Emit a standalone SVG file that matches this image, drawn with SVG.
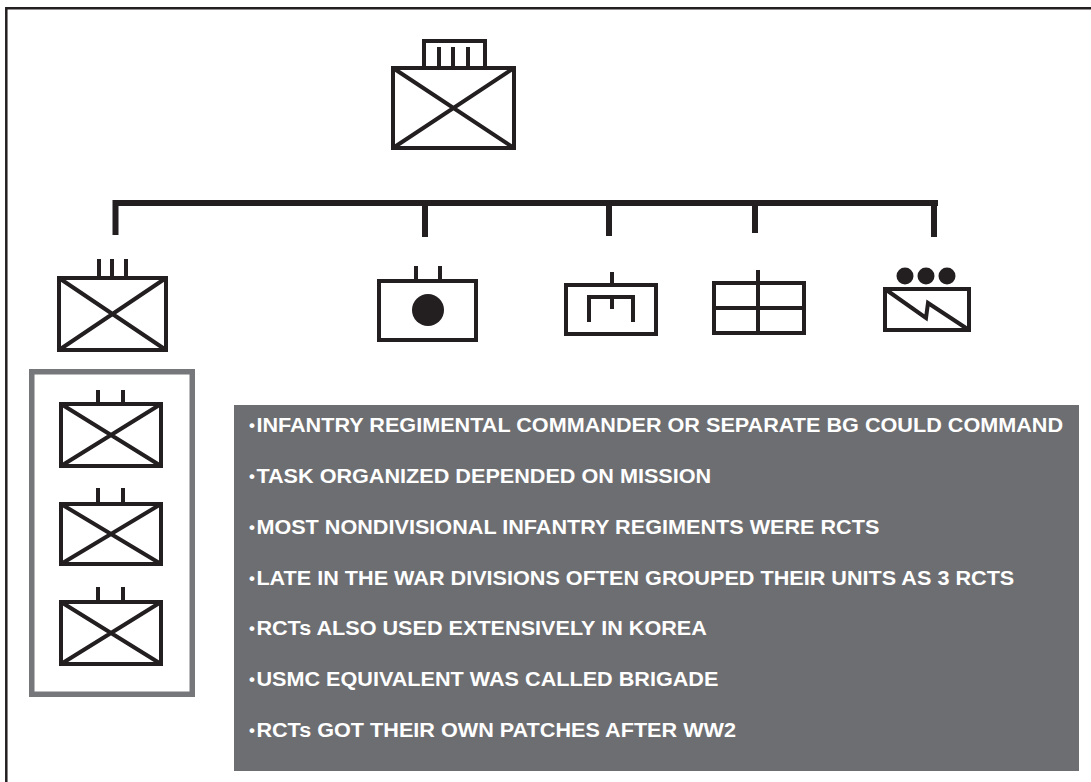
<svg xmlns="http://www.w3.org/2000/svg" width="1091" height="782" viewBox="0 0 1091 782">
<style>
.s{fill:none;stroke:#231f20;stroke-width:4}
.w{fill:#fff;stroke:#231f20;stroke-width:4}
.d{fill:#231f20}
.c{fill:none;stroke:#231f20;stroke-width:6}
text{font-family:"Liberation Sans",Arial,sans-serif;font-weight:700;font-size:20.500px;fill:#fff}
.b{font-size:16px}
</style>
<rect width="1091" height="782" fill="#fff"/>
<path id="border" d="M6.300 782V8.300H1091" fill="none" stroke="#231f20" stroke-width="2.500"/>
<g id="connectors">
<path class="c" d="M115.500 235V203H938M425 237V203M609 236V203M755 233V203M934 237V203"/>
</g>
<g id="hq">
<rect class="s" x="424" y="41" width="61" height="27"/>
<path class="s" d="M439 47V68M453 47V68M468 47V68"/>
<rect class="w" x="393" y="68" width="121" height="80"/>
<path class="s" d="M393 68L514 148M514 68L393 148"/>
</g>
<g id="regiment">
<path class="s" d="M99 259V278M112 259V278M126 259V278"/>
<rect class="w" x="59" y="278" width="107" height="72"/>
<path class="s" d="M59 278L166 350M166 278L59 350"/>
</g>
<g id="medical">
<path class="s" d="M416 266V281M440 266V281"/>
<rect class="s" x="379" y="281" width="97" height="59"/>
<circle class="d" cx="428" cy="310" r="16"/>
</g>
<g id="engineer">
<path class="s" d="M612 272V285"/>
<rect class="s" x="566" y="285" width="90" height="49"/>
<path class="s" d="M589 322V297H633V322M612 297V309"/>
</g>
<g id="map">
<rect class="s" x="714" y="283" width="90" height="50"/>
<path class="s" d="M758 270V333M714 308H804"/>
</g>
<g id="signal">
<circle class="d" cx="905" cy="276" r="8.500"/>
<circle class="d" cx="926" cy="276" r="8.500"/>
<circle class="d" cx="947" cy="276" r="8.500"/>
<rect class="s" x="885" y="289" width="84" height="41"/>
<path class="s" d="M885 289L926 318L928 303L969 330"/>
</g>
<g id="battalions">
<rect x="31.750" y="371.750" width="160.500" height="322.500" fill="none" stroke="#76777b" stroke-width="5.500"/>
<g id="bn1">
<path class="s" d="M98 390V404M123 390V404"/>
<rect class="w" x="61" y="404" width="100" height="62"/>
<path class="s" d="M61 404L161 466M161 404L61 466"/>
</g>
<g id="bn2">
<path class="s" d="M98 488V504M123 488V504"/>
<rect class="w" x="61" y="504" width="100" height="60"/>
<path class="s" d="M61 504L161 564M161 504L61 564"/>
</g>
<g id="bn3">
<path class="s" d="M98 587V602M123 587V602"/>
<rect class="w" x="61" y="602" width="100" height="62"/>
<path class="s" d="M61 602L161 664M161 602L61 664"/>
</g>
</g>
<g id="notes">
<rect x="234" y="405" width="845" height="366" fill="#6d6e71"/>
<text transform="translate(249 432) scale(1.055 1)"><tspan class="b" dy="-1">•</tspan><tspan x="7" dy="1">INFANTRY REGIMENTAL COMMANDER OR SEPARATE BG COULD COMMAND</tspan></text>
<text transform="translate(249 483) scale(1.055 1)"><tspan class="b" dy="-1">•</tspan><tspan x="7" dy="1">TASK ORGANIZED DEPENDED ON MISSION</tspan></text>
<text transform="translate(249 534) scale(1.055 1)"><tspan class="b" dy="-1">•</tspan><tspan x="7" dy="1">MOST NONDIVISIONAL INFANTRY REGIMENTS WERE RCTS</tspan></text>
<text transform="translate(249 584.500) scale(1.055 1)"><tspan class="b" dy="-1">•</tspan><tspan x="7" dy="1">LATE IN THE WAR DIVISIONS OFTEN GROUPED THEIR UNITS AS 3 RCTS</tspan></text>
<text transform="translate(249 635) scale(1.055 1)"><tspan class="b" dy="-1">•</tspan><tspan x="7" dy="1">RCTs ALSO USED EXTENSIVELY IN KOREA</tspan></text>
<text transform="translate(249 685.500) scale(1.055 1)"><tspan class="b" dy="-1">•</tspan><tspan x="7" dy="1">USMC EQUIVALENT WAS CALLED BRIGADE</tspan></text>
<text transform="translate(249 736.500) scale(1.055 1)"><tspan class="b" dy="-1">•</tspan><tspan x="7" dy="1">RCTs GOT THEIR OWN PATCHES AFTER WW2</tspan></text>
</g>
</svg>
